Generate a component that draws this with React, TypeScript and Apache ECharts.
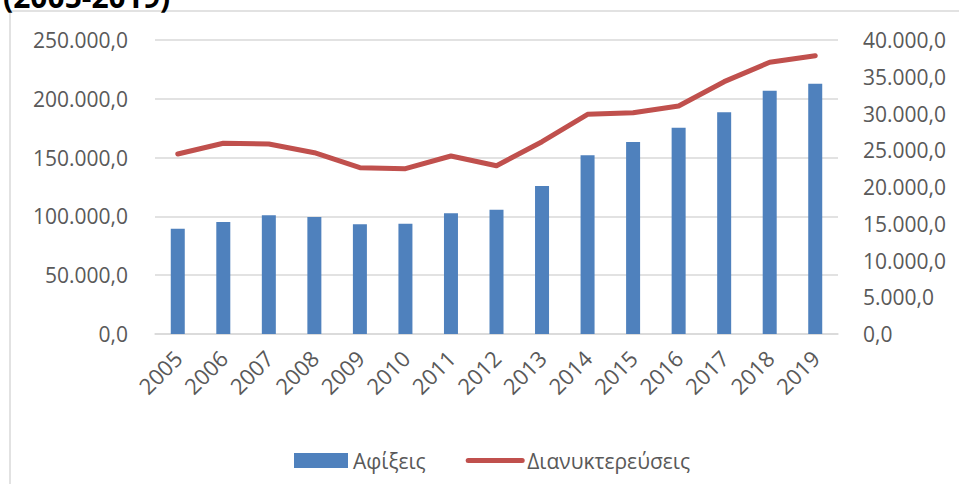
import React, { useEffect, useRef } from "react";
import * as echarts from "echarts";

const years = ["2005","2006","2007","2008","2009","2010","2011","2012","2013","2014","2015","2016","2017","2018","2019"];
const arrivals = [89500, 95200, 100900, 99500, 93300, 93800, 102600, 105700, 125900, 151900, 163300, 175400, 188500, 206900, 212800];
const overnights = [24490, 25950, 25850, 24670, 22630, 22490, 24220, 22900, 26160, 29890, 30110, 31020, 34330, 36970, 37860];
const leftTicks = [0, 50000, 100000, 150000, 200000, 250000];
const rightTicks = [0, 5000, 10000, 15000, 20000, 25000, 30000, 35000, 40000];

const fmt = (v: number) => {
  const s = Math.round(v).toString().replace(/\B(?=(\d{3})+(?!\d))/g, ".");
  return s + ",0";
};

const FONT = "'Open Sans', sans-serif";

export default function App() {
  const ref = useRef<HTMLDivElement>(null);
  useEffect(() => {
    if (!ref.current) return;
    const chart = echarts.init(ref.current, undefined, { renderer: "svg" });
    chart.setOption({
      animation: false,
      backgroundColor: "#ffffff",
      textStyle: { fontFamily: FONT },
      graphic: [
        {
          type: "rect",
          shape: { x: 10, y: 11, width: 1000, height: 600 },
          style: { fill: "none", stroke: "#d9d9d9", lineWidth: 1.5 },
          silent: true,
        },
        {
          type: "text",
          x: 3,
          y: -4,
          style: {
            text: "(2005-2019)",
            font: "bold 30px 'Open Sans', sans-serif",
            fill: "#000000",
            verticalAlign: "middle",
          },
        },
      ],
      grid: { left: 155, right: 121, top: 40, bottom: 150, containLabel: false },
      legend: {
        left: 289,
        top: 445,
        itemWidth: 54,
        itemHeight: 15,
        itemGap: 40,
        textStyle: { fontFamily: FONT, fontSize: 21, color: "#595959" },
        data: [
          { name: "Αφίξεις", icon: "rect" },
          {
            name: "Διανυκτερεύσεις",
            itemStyle: { opacity: 0 },
            lineStyle: { width: 5, cap: "round", color: "#C0504D" },
          },
        ],
      },
      xAxis: {
        type: "category",
        data: years,
        axisLine: { show: true, lineStyle: { color: "#d9d9d9", width: 1.5 } },
        axisTick: { show: false },
        axisLabel: { rotate: 45, fontSize: 22, color: "#595959", fontFamily: FONT, margin: 20, interval: 0 },
      },
      yAxis: [
        {
          type: "value",
          min: leftTicks[0],
          max: leftTicks[leftTicks.length - 1],
          interval: 50000,
          axisLine: { show: false },
          axisTick: { show: false },
          splitLine: { lineStyle: { color: "#d9d9d9", width: 1.5 } },
          axisLabel: { fontSize: 21, color: "#595959", fontFamily: FONT, margin: 27, formatter: (v: number) => fmt(v) },
        },
        {
          type: "value",
          min: rightTicks[0],
          max: rightTicks[rightTicks.length - 1],
          interval: 5000,
          position: "right",
          axisLine: { show: false },
          axisTick: { show: false },
          splitLine: { show: false },
          axisLabel: { fontSize: 21, color: "#595959", fontFamily: FONT, margin: 25, formatter: (v: number) => fmt(v) },
        },
      ],
      series: [
        {
          name: "Αφίξεις",
          type: "bar",
          data: arrivals,
          yAxisIndex: 0,
          barWidth: 14,
          itemStyle: { color: "#4F81BD" },
        },
        {
          name: "Διανυκτερεύσεις",
          type: "line",
          data: overnights,
          yAxisIndex: 1,
          symbol: "none",
          lineStyle: { color: "#C0504D", width: 5, cap: "round", join: "round" },
          itemStyle: { color: "#C0504D" },
        },
      ],
    });
    return () => chart.dispose();
  }, []);
  return (
    <div
      ref={ref}
      style={{ position: "fixed", left: 0, top: 0, width: 959, height: 484 }}
    />
  );
}
